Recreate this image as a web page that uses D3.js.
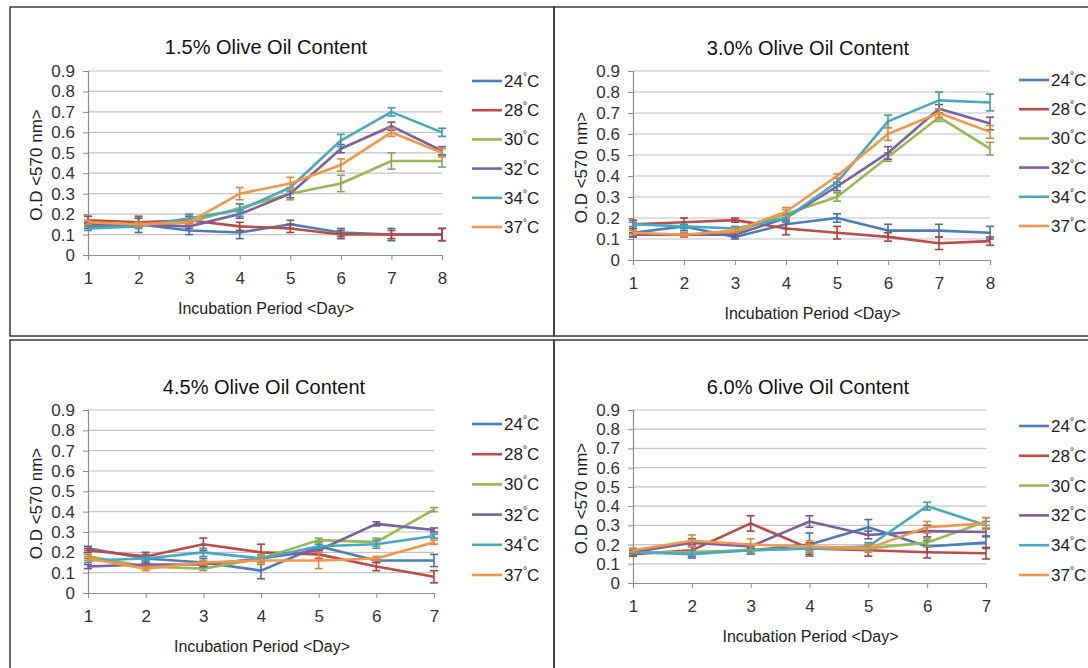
<!DOCTYPE html>
<html>
<head>
<meta charset="utf-8">
<script src="https://cdn.jsdelivr.net/npm/d3@7"></script>
<style>
  body { margin: 0; background: #fff; }
  svg { display: block; font-family: "Liberation Sans", Arial, sans-serif; }
</style>
</head>
<body>
<div id="chart"></div>
<script>
// ---- data ----
const temps = ['24', '28', '30', '32', '34', '37'];
const colors = ['#4a7ebb', '#be4b48', '#98b954', '#7d60a0', '#46aac5', '#f79646'];
const yTicks = [0, 0.1, 0.2, 0.3, 0.4, 0.5, 0.6, 0.7, 0.8, 0.9];
const days8 = [1, 2, 3, 4, 5, 6, 7, 8];
const days7 = [1, 2, 3, 4, 5, 6, 7];
const titles = ['1.5% Olive Oil Content', '3.0% Olive Oil Content', '4.5% Olive Oil Content', '6.0% Olive Oil Content'];

// rows: 24, 28, 30, 32, 34, 37 °C
const oil15 = [
  [0.14, 0.15, 0.12, 0.11, 0.15, 0.11, 0.10, 0.10],
  [0.17, 0.16, 0.17, 0.14, 0.13, 0.10, 0.10, 0.10],
  [0.15, 0.15, 0.16, 0.23, 0.30, 0.35, 0.46, 0.46],
  [0.15, 0.15, 0.14, 0.20, 0.30, 0.52, 0.63, 0.51],
  [0.13, 0.14, 0.18, 0.22, 0.33, 0.56, 0.70, 0.60],
  [0.16, 0.15, 0.16, 0.30, 0.35, 0.44, 0.60, 0.50]
];
const oil15Err = [
  [0.01, 0.04, 0.02, 0.03, 0.02, 0.02, 0.03, 0.03],
  [0.02, 0.02, 0.02, 0.02, 0.02, 0.02, 0.02, 0.03],
  [0.01, 0.01, 0.01, 0.02, 0.03, 0.04, 0.04, 0.03],
  [0.01, 0.01, 0.01, 0.02, 0.02, 0.02, 0.02, 0.02],
  [0.01, 0.01, 0.02, 0.03, 0.02, 0.03, 0.02, 0.02],
  [0.01, 0.01, 0.01, 0.03, 0.03, 0.03, 0.02, 0.02]
];

const oil30 = [
  [0.13, 0.16, 0.11, 0.17, 0.20, 0.14, 0.14, 0.13],
  [0.17, 0.18, 0.19, 0.15, 0.13, 0.11, 0.08, 0.09],
  [0.12, 0.12, 0.13, 0.22, 0.30, 0.49, 0.68, 0.53],
  [0.12, 0.12, 0.12, 0.20, 0.35, 0.51, 0.72, 0.65],
  [0.17, 0.16, 0.15, 0.20, 0.37, 0.66, 0.76, 0.75],
  [0.13, 0.12, 0.14, 0.23, 0.40, 0.60, 0.70, 0.61]
];
const oil30Err = [
  [0.02, 0.02, 0.01, 0.02, 0.02, 0.03, 0.03, 0.03],
  [0.02, 0.02, 0.01, 0.03, 0.03, 0.02, 0.03, 0.02],
  [0.01, 0.01, 0.01, 0.02, 0.02, 0.02, 0.02, 0.03],
  [0.01, 0.01, 0.01, 0.02, 0.02, 0.03, 0.02, 0.03],
  [0.01, 0.01, 0.01, 0.02, 0.02, 0.03, 0.04, 0.04],
  [0.01, 0.01, 0.01, 0.02, 0.01, 0.03, 0.02, 0.03]
];

const oil45 = [
  [0.22, 0.17, 0.15, 0.11, 0.23, 0.16, 0.16],
  [0.21, 0.18, 0.24, 0.20, 0.19, 0.13, 0.08],
  [0.18, 0.13, 0.12, 0.17, 0.26, 0.25, 0.41],
  [0.13, 0.14, 0.14, 0.17, 0.21, 0.34, 0.31],
  [0.16, 0.17, 0.20, 0.17, 0.23, 0.24, 0.28],
  [0.17, 0.12, 0.15, 0.16, 0.16, 0.17, 0.25]
];
const oil45Err = [
  [0.01, 0.02, 0.02, 0.04, 0.02, 0.01, 0.03],
  [0.01, 0.02, 0.03, 0.04, 0.02, 0.02, 0.03],
  [0.01, 0.01, 0.01, 0.02, 0.01, 0.02, 0.01],
  [0.01, 0.01, 0.01, 0.01, 0.01, 0.01, 0.01],
  [0.01, 0.01, 0.02, 0.01, 0.01, 0.02, 0.01],
  [0.01, 0.01, 0.01, 0.02, 0.04, 0.01, 0.01]
];

const oil60 = [
  [0.16, 0.16, 0.17, 0.20, 0.29, 0.19, 0.21],
  [0.15, 0.17, 0.31, 0.18, 0.17, 0.16, 0.155],
  [0.16, 0.16, 0.17, 0.18, 0.18, 0.21, 0.32],
  [0.16, 0.21, 0.19, 0.32, 0.25, 0.27, 0.265],
  [0.16, 0.15, 0.17, 0.18, 0.19, 0.40, 0.30],
  [0.17, 0.22, 0.20, 0.19, 0.18, 0.29, 0.31]
];
const oil60Err = [
  [0.02, 0.03, 0.02, 0.06, 0.04, 0.03, 0.03],
  [0.01, 0.03, 0.04, 0.03, 0.03, 0.03, 0.03],
  [0.01, 0.01, 0.01, 0.02, 0.01, 0.02, 0.02],
  [0.01, 0.02, 0.01, 0.03, 0.02, 0.03, 0.02],
  [0.01, 0.02, 0.02, 0.01, 0.02, 0.02, 0.02],
  [0.01, 0.03, 0.03, 0.03, 0.02, 0.03, 0.03]
];

// ---- layout ----
const width = 1088;
const height = 668;

const panels = [
  { title: titles[0], days: days8, values: oil15, errors: oil15Err,
    left: 88, right: 442, top: 71, bottom: 255, titleX: 266, titleY: 54,
    legendX: 472, legendY: 81, legendStep: 29.2 },
  { title: titles[1], days: days8, values: oil30, errors: oil30Err,
    left: 633, right: 990, top: 71, bottom: 260, titleX: 808, titleY: 55,
    legendX: 1019, legendY: 80, legendStep: 29.2 },
  { title: titles[2], days: days7, values: oil45, errors: oil45Err,
    left: 88, right: 434, top: 410, bottom: 593, titleX: 264, titleY: 394,
    legendX: 472, legendY: 424, legendStep: 30.2 },
  { title: titles[3], days: days7, values: oil60, errors: oil60Err,
    left: 633, right: 986, top: 410, bottom: 583, titleX: 808, titleY: 394,
    legendX: 1019, legendY: 426, legendStep: 29.8 }
];

const svg = d3.select('#chart').append('svg')
  .attr('width', width)
  .attr('height', height);

svg.append('rect').attr('width', width).attr('height', height).attr('fill', '#fff');

// table cell borders
const cells = [
  [10, 7, 544, 329], [554, 7, 560, 329],
  [10, 340, 544, 360], [554, 340, 560, 360]
];
svg.selectAll('.cell')
  .data(cells)
  .enter()
  .append('rect')
  .attr('class', 'cell')
  .attr('x', d => d[0])
  .attr('y', d => d[1])
  .attr('width', d => d[2])
  .attr('height', d => d[3])
  .attr('fill', 'none')
  .attr('stroke', '#3a3a3a')
  .attr('stroke-width', 1.5);

function drawPanel(p) {
  const x = d3.scaleLinear().domain([1, p.days.length]).range([p.left, p.right]);
  const y = d3.scaleLinear().domain([0, 0.9]).range([p.bottom, p.top]);
  const g = svg.append('g');

  // gridlines
  g.selectAll('.grid')
    .data(yTicks.slice(1))
    .enter()
    .append('line')
    .attr('x1', p.left)
    .attr('x2', p.right)
    .attr('y1', d => y(d))
    .attr('y2', d => y(d))
    .attr('stroke', '#c4c4c4')
    .attr('stroke-width', 1.2);

  const yAxis = g.append('g')
    .attr('transform', `translate(${p.left},0)`)
    .call(d3.axisLeft(y).tickValues(yTicks).tickSize(5).tickPadding(8)
      .tickFormat(d => (d === 0 ? '0' : d3.format('.1f')(d))));

  const xAxis = g.append('g')
    .attr('transform', `translate(0,${p.bottom})`)
    .call(d3.axisBottom(x).tickValues(p.days).tickSize(5).tickPadding(12)
      .tickFormat(d3.format('d')));

  [yAxis, xAxis].forEach(a => {
    a.select('.domain').attr('stroke', '#8c8c8c').attr('stroke-width', 1.2);
    a.selectAll('.tick line').attr('stroke', '#8c8c8c');
    a.selectAll('.tick text')
      .attr('fill', '#333')
      .style('font-size', '17px');
  });

  // series
  const line = d3.line()
    .x((d, i) => x(p.days[i]))
    .y(d => y(d));

  p.values.forEach((vals, s) => {
    const sg = g.append('g');
    sg.append('path')
      .datum(vals)
      .attr('d', line)
      .attr('fill', 'none')
      .attr('stroke', colors[s])
      .attr('stroke-width', 2.6)
      .attr('stroke-linejoin', 'round');

    const bars = sg.selectAll('.err')
      .data(vals.map((v, i) => ({ day: p.days[i], v, e: p.errors[s][i] })))
      .enter()
      .append('g')
      .attr('stroke', d3.color(colors[s]).darker(0.3))
      .attr('stroke-width', 1.6);

    bars.append('line')
      .attr('x1', d => x(d.day)).attr('x2', d => x(d.day))
      .attr('y1', d => y(d.v - d.e)).attr('y2', d => y(d.v + d.e));
    bars.append('line')
      .attr('x1', d => x(d.day) - 4).attr('x2', d => x(d.day) + 4)
      .attr('y1', d => y(d.v + d.e)).attr('y2', d => y(d.v + d.e));
    bars.append('line')
      .attr('x1', d => x(d.day) - 4).attr('x2', d => x(d.day) + 4)
      .attr('y1', d => y(d.v - d.e)).attr('y2', d => y(d.v - d.e));
  });

  // titles
  g.append('text')
    .attr('x', p.titleX)
    .attr('y', p.titleY)
    .attr('text-anchor', 'middle')
    .style('font-size', '20px')
    .attr('fill', '#111')
    .text(p.title);

  g.append('text')
    .attr('x', (p.left + p.right) / 2 + 1)
    .attr('y', p.bottom + 59)
    .attr('text-anchor', 'middle')
    .style('font-size', '16px')
    .attr('fill', '#222')
    .text('Incubation Period <Day>');

  g.append('text')
    .attr('transform', `translate(${p.left - 52},${(p.top + p.bottom) / 2 + 2}) rotate(-90)`)
    .attr('text-anchor', 'middle')
    .attr('dy', '0.35em')
    .style('font-size', '17px')
    .attr('fill', '#222')
    .text('O.D <570 nm>');

  // legend
  const leg = g.selectAll('.leg')
    .data(temps)
    .enter()
    .append('g')
    .attr('transform', (d, i) => `translate(${p.legendX},${p.legendY + i * p.legendStep})`);

  leg.append('line')
    .attr('x1', 0).attr('x2', 30)
    .attr('stroke', (d, i) => colors[i])
    .attr('stroke-width', 2.6);

  const lt = leg.append('text')
    .attr('x', 32)
    .attr('y', 6)
    .style('font-size', '17px')
    .attr('fill', '#222');
  lt.append('tspan').text(d => d);
  lt.append('tspan').attr('dy', -7).style('font-size', '10px').text('°');
  lt.append('tspan').attr('dy', 7).text('C');
}

panels.forEach(drawPanel);
</script>
</body>
</html>
